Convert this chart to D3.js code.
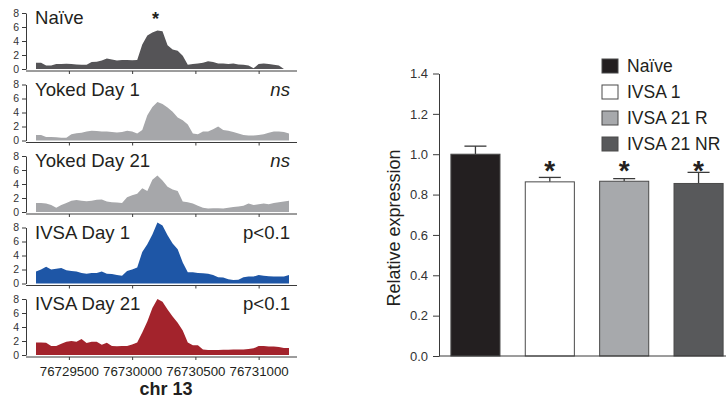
<!DOCTYPE html>
<html>
<head>
<meta charset="utf-8">
<script src="https://cdn.jsdelivr.net/npm/d3@7"></script>
<style>
  html, body { margin: 0; padding: 0; background: #fff; }
  svg { display: block; font-family: "Liberation Sans", Arial, sans-serif; }
</style>
</head>
<body>
<svg id="chart" width="726" height="398"></svg>
<script>
// ---------------- DATA ----------------
// Coverage tracks: bins of 40 bp starting at 76729240
const trackStart = 76729240;
const binSize = 40;
const trackNames = ["Naïve", "Yoked Day 1", "Yoked Day 21", "IVSA Day 1", "IVSA Day 21"];
const trackSig = ["*", "ns", "ns", "p<0.1", "p<0.1"];
const trackColors = ["#555457", "#a6a7aa", "#a6a7aa", "#1e56a6", "#a3232c"];

const naive = [0.9,0.9,0.5,0.5,0.7,0.7,0.75,0.7,0.65,0.6,0.6,1.0,1.05,1.2,1.5,1.35,1.2,1.3,1.3,1.25,1.3,3.5,4.8,5.2,5.5,5.4,3.4,2.8,2.6,1.9,0.6,0.7,0.8,0.9,1.1,1.0,0.8,0.8,0.7,0.8,0.65,0.6,0.5,0.1,0.7,0.8,0.7,0.6,0.5,0,0];
const yokedDay1 = [0.8,0.8,0.5,0.5,0.45,0.4,0.4,0.9,1.05,1.1,1.3,1.4,1.35,1.3,1.3,1.2,1.15,1.2,1.4,1.3,1.0,1.5,3.6,4.8,5.5,5.2,4.7,4.1,3.3,2.9,2.3,1.0,0.9,1.3,1.3,1.6,2.0,1.5,1.4,1.2,1.0,0.8,0.7,0.7,0.8,0.9,1.1,1.3,1.3,1.2,1.0];
const yokedDay21 = [1.3,1.3,1.2,1.0,0.6,1.0,1.3,1.6,1.7,1.6,1.55,1.6,1.75,1.8,1.5,1.4,1.35,1.3,2.1,2.4,2.6,3.4,3.0,4.6,5.2,4.5,3.6,3.2,3.0,1.5,1.4,1.2,0.9,0.6,0.5,0.55,0.55,0.5,0.6,0.7,0.8,0.9,1.2,1.0,1.1,1.2,1.1,1.3,1.4,1.5,1.6];
const ivsaDay1 = [1.7,2.0,2.4,2.0,2.1,2.2,1.9,1.8,1.7,1.5,1.4,1.5,1.5,1.7,1.4,1.35,1.2,1.1,1.8,2.0,2.3,4.5,5.6,7.0,8.7,8.3,6.9,5.7,4.9,3.0,1.6,1.6,1.5,1.45,1.4,1.2,0.9,0.85,0.6,0.5,0.55,0.9,1.0,1.0,1.2,1.1,1.05,1.0,1.0,1.0,1.2];
const ivsaDay21 = [1.8,1.8,1.75,1.3,1.3,1.6,1.9,2.0,1.9,2.3,1.7,1.9,1.9,1.45,1.75,1.3,1.25,1.3,1.3,1.5,1.8,3.2,4.8,6.7,8.0,7.6,6.5,5.5,4.6,3.5,1.8,1.4,1.4,0.8,0.7,0.7,0.7,0.75,0.75,0.8,0.8,0.8,0.85,0.95,1.3,1.3,1.2,1.2,1.15,1.0,1.0];
const trackValues = [naive, yokedDay1, yokedDay21, ivsaDay1, ivsaDay21];
const trackYTicks = [0, 2, 4, 6, 8];
const trackXTicks = [76729500, 76730000, 76730500, 76731000];
const chrLabel = "chr 13";

// Bar chart
const groups = ["Naïve", "IVSA 1", "IVSA 21 R", "IVSA 21 NR"];
const means = [1.0, 0.863, 0.866, 0.855];
const errors = [0.04, 0.022, 0.013, 0.055];
const barSig = ["", "*", "*", "*"];
const barColors = ["#231f20", "#ffffff", "#a7a9ac", "#58595b"];
const barYTicks = [0.0, 0.2, 0.4, 0.6, 0.8, 1.0, 1.2, 1.4];
const barYLabel = "Relative expression";

// ---------------- DRAW ----------------
const svg = d3.select("#chart");
const ink = "#231f20";
const axisInk = "#3a3a3a";

// ---- Left: coverage tracks ----
const trackEnd = trackStart + binSize * (naive.length - 1);
const x = d3.scaleLinear().domain([trackStart, trackEnd]).range([36, 289]);
const axisX0 = 26, axisX1 = 297;

trackValues.forEach((vals, i) => {
  const base = 71 + i * 71.5;
  const y = d3.scaleLinear().domain([0, 8]).range([base - 2, base - 58]);
  const g = svg.append("g");

  const area = d3.area()
    .x((d, j) => x(trackStart + j * binSize))
    .y0(y(0))
    .y1(d => y(d));
  g.append("path").datum(vals).attr("d", area).attr("fill", trackColors[i]);

  // y axis
  const ya = g.append("g").attr("transform", `translate(${axisX0},0)`)
    .call(d3.axisLeft(y).tickValues(trackYTicks).tickSize(4).tickPadding(3).tickSizeOuter(0));
  ya.select(".domain").attr("stroke", axisInk);
  ya.selectAll(".tick line").attr("stroke", axisInk);
  ya.selectAll(".tick text").attr("font-size", 10.5).attr("fill", "#333")
    .attr("font-family", "Liberation Sans, Arial, sans-serif");

  // x axis line
  g.append("line").attr("x1", axisX0).attr("x2", axisX1)
    .attr("y1", base).attr("y2", base).attr("stroke", axisInk);
  const xa = g.append("g").attr("transform", `translate(0,${base})`)
    .call(d3.axisBottom(x).tickValues(trackXTicks).tickSize(3).tickPadding(7)
      .tickFormat(i === trackValues.length - 1 ? d3.format("d") : () => ""));
  xa.select(".domain").remove();
  xa.selectAll(".tick line").attr("stroke", axisInk);
  xa.selectAll(".tick text").attr("font-size", 13.3).attr("fill", ink)
    .attr("font-family", "Liberation Sans, Arial, sans-serif");

  // label
  g.append("text").attr("x", 35).attr("y", base - 47)
    .attr("font-size", 18.6).attr("fill", ink).text(trackNames[i]);

  // significance
  if (trackSig[i] === "*") {
    const jMax = d3.maxIndex(vals);
    g.append("text").attr("x", x(trackStart + jMax * binSize) - 2).attr("y", base - 46)
      .attr("text-anchor", "middle").attr("font-size", 18).attr("font-weight", "bold")
      .attr("fill", ink).text("*");
  } else {
    g.append("text").attr("x", 290).attr("y", base - 47)
      .attr("text-anchor", "end").attr("font-size", 18.6).attr("fill", ink)
      .attr("font-style", trackSig[i] === "ns" ? "italic" : "normal")
      .text(trackSig[i]);
  }
});

svg.append("text").attr("x", 166).attr("y", 395).attr("text-anchor", "middle")
  .attr("font-size", 18).attr("font-weight", "bold").attr("fill", ink).text(chrLabel);

// ---- Right: bar chart ----
const by = d3.scaleLinear().domain([0, 1.4]).range([356, 73.5]);
const bx = d3.scaleBand().domain(groups).range([439, 735]).paddingInner(0.34).paddingOuter(0.16);

const yAxisG = svg.append("g").attr("transform", "translate(439,0)")
  .call(d3.axisLeft(by).tickValues(barYTicks).tickFormat(d3.format(".1f")).tickSize(6).tickPadding(5).tickSizeOuter(0));
yAxisG.select(".domain").attr("stroke", axisInk);
yAxisG.selectAll(".tick line").attr("stroke", axisInk);
yAxisG.selectAll(".tick text").attr("font-size", 13).attr("fill", "#333")
  .attr("font-family", "Liberation Sans, Arial, sans-serif");

svg.append("text")
  .attr("transform", "translate(400,228) rotate(-90)")
  .attr("text-anchor", "middle").attr("font-size", 18).attr("fill", ink).text(barYLabel);

// error bars
groups.forEach((gname, i) => {
  const cx = bx(gname) + bx.bandwidth() / 2;
  svg.append("line").attr("x1", cx).attr("x2", cx)
    .attr("y1", by(means[i])).attr("y2", by(means[i] + errors[i]))
    .attr("stroke", axisInk).attr("stroke-width", 1.3);
  svg.append("line").attr("x1", cx - 11).attr("x2", cx + 11)
    .attr("y1", by(means[i] + errors[i])).attr("y2", by(means[i] + errors[i]))
    .attr("stroke", axisInk).attr("stroke-width", 1.3);
});

svg.selectAll("rect.bar").data(groups).join("rect").attr("class", "bar")
  .attr("x", d => bx(d)).attr("width", bx.bandwidth())
  .attr("y", (d, i) => by(means[i])).attr("height", (d, i) => by(0) - by(means[i]))
  .attr("fill", (d, i) => barColors[i]).attr("stroke", "#4a4a4a").attr("stroke-width", 1);

// x axis baseline
svg.append("line").attr("x1", 439).attr("x2", 726).attr("y1", by(0)).attr("y2", by(0))
  .attr("stroke", axisInk);

// asterisks
groups.forEach((gname, i) => {
  if (!barSig[i]) return;
  svg.append("text").attr("x", bx(gname) + bx.bandwidth() / 2).attr("y", 179.5)
    .attr("text-anchor", "middle").attr("font-size", 28).attr("font-weight", "bold")
    .attr("fill", ink).text(barSig[i]);
});

// legend
const leg = svg.append("g");
groups.forEach((gname, i) => {
  const cy = 66 + i * 26;
  leg.append("rect").attr("x", 602).attr("y", cy - 7).attr("width", 16).attr("height", 14)
    .attr("fill", barColors[i]).attr("stroke", "#4a4a4a");
  leg.append("text").attr("x", 627).attr("y", cy).attr("dy", "0.36em")
    .attr("font-size", 17.5).attr("fill", ink).text(gname);
});
</script>
</body>
</html>
